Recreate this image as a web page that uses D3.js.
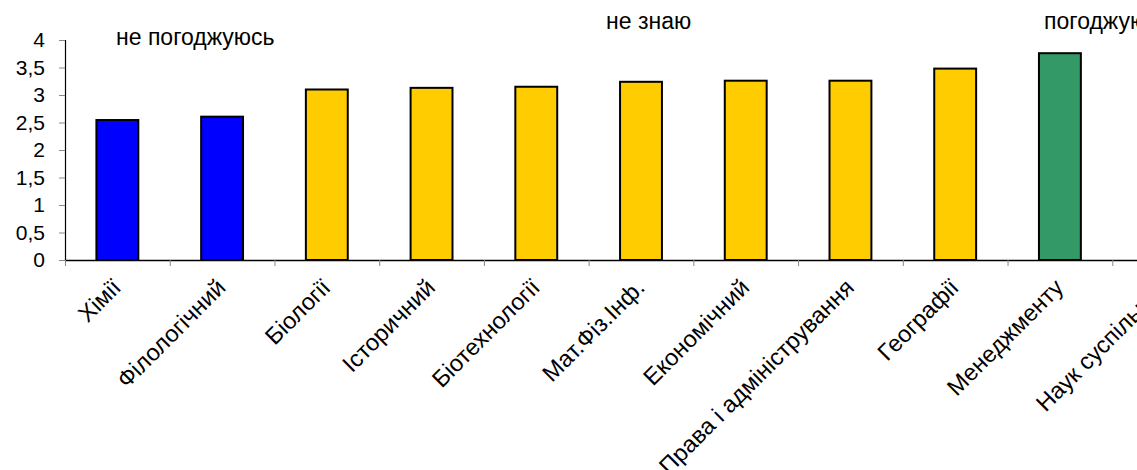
<!DOCTYPE html>
<html>
<head>
<meta charset="utf-8">
<script src="https://cdn.jsdelivr.net/npm/d3@7"></script>
<style>
  html, body { margin: 0; padding: 0; background: #fff; overflow: hidden; }
  svg { display: block; }
  text { font-family: "Liberation Sans", Arial, sans-serif; fill: #000; }
</style>
</head>
<body>
<svg id="chart" width="1137" height="470"></svg>
<script>
// ---- data ----
const categories = ["Хімії", "Філологічний", "Біології", "Історичний", "Біотехнології",
  "Мат.Фіз.Інф.", "Економічний", "Права і адміністрування", "Географії", "Менеджменту",
  "Наук суспільних"];
const values = [2.545, 2.606, 3.10, 3.13, 3.15, 3.24, 3.26, 3.26, 3.48, 3.76, null];
const groups = ["disagree", "disagree", "unknown", "unknown", "unknown", "unknown",
  "unknown", "unknown", "unknown", "agree", "agree"];
const groupNames = ["disagree", "unknown", "agree"];
const groupLabels = ["не погоджуюсь", "не знаю", "погоджуюсь"];
const groupColors = ["#0000FF", "#FFCC00", "#339966"];
const yTicks = [0, 0.5, 1, 1.5, 2, 2.5, 3, 3.5, 4];
const yTickLabels = ["0", "0,5", "1", "1,5", "2", "2,5", "3", "3,5", "4"];

// ---- layout ----
const mLeft = 65, mRight = 1217, mTop = 40, mBottom = 260;
const tickFont = 21, labelFont = 23.5, annFont = 23;

const svg = d3.select("#chart");

const x = d3.scaleBand().domain(categories).range([mLeft, mRight])
  .paddingInner(0.6).paddingOuter(0.3);
const xEdge = d3.scaleLinear().domain([0, categories.length]).range([mLeft, mRight]);
const y = d3.scaleLinear().domain([0, 4]).range([mBottom, mTop]);
const color = d3.scaleOrdinal().domain(groupNames).range(groupColors);

// bars
const data = categories.map((c, i) => ({ c, v: values[i], g: groups[i] }))
  .filter(d => d.v != null);
svg.append("g").selectAll("rect").data(data).join("rect")
  .attr("x", d => x(d.c))
  .attr("y", d => y(d.v))
  .attr("width", x.bandwidth())
  .attr("height", d => y(0) - y(d.v))
  .attr("fill", d => color(d.g))
  .attr("stroke", "#000")
  .attr("stroke-width", 2);

// y axis
const yAxis = svg.append("g").attr("transform", `translate(${mLeft},0)`)
  .call(d3.axisLeft(y).tickValues(yTicks).tickSize(6).tickPadding(14)
    .tickFormat((d, i) => yTickLabels[i]));
yAxis.select(".domain").attr("stroke", "#000").attr("stroke-width", 1.2)
  .attr("d", `M0.5,${mTop}V${mBottom}`);
yAxis.selectAll(".tick line").attr("stroke", "#888");
yAxis.selectAll(".tick text").style("font-size", tickFont + "px")
  .style("font-family", '"Liberation Sans", Arial, sans-serif').attr("fill", "#000");

// x axis: line and boundary ticks
const edges = d3.range(categories.length + 1);
const xAxis = svg.append("g").attr("transform", `translate(0,${mBottom})`)
  .call(d3.axisBottom(xEdge).tickValues(edges).tickSize(6).tickFormat(""));
xAxis.select(".domain").attr("stroke", "#000").attr("stroke-width", 1.5)
  .attr("d", `M${mLeft},0.5H${mRight}`);
xAxis.selectAll(".tick line").attr("stroke", "#888");

// rotated category labels
svg.append("g").selectAll("text").data(categories).join("text")
  .attr("transform", c => `translate(${x(c) + x.bandwidth() / 2 + 5},${mBottom + 29}) rotate(-45)`)
  .attr("text-anchor", "end")
  .style("font-size", labelFont + "px")
  .text(c => c);

// group annotations
const annPos = [[116, 45], [606, 29], [1044, 29]];
svg.append("g").selectAll("text").data(groupLabels).join("text")
  .attr("x", (d, i) => annPos[i][0])
  .attr("y", (d, i) => annPos[i][1])
  .style("font-size", annFont + "px")
  .text(d => d);
</script>
</body>
</html>
